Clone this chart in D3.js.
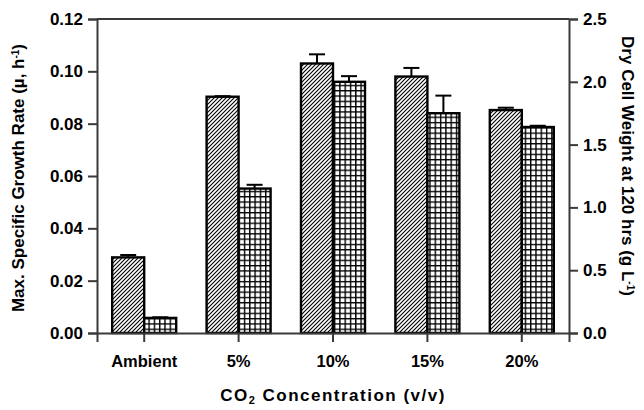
<!DOCTYPE html>
<html>
<head>
<meta charset="utf-8">
<script src="https://cdn.jsdelivr.net/npm/d3@7"></script>
<style>
  body { margin: 0; background: #fff; }
  text { font-family: "Liberation Sans", Arial, sans-serif; font-weight: bold; }
</style>
</head>
<body>
<svg id="chart"></svg>
<script>
var categories = ["Ambient", "5%", "10%", "15%", "20%"];
var growthRate = [0.0289, 0.0903, 0.1030, 0.0980, 0.0852];
var growthErr  = [0.0009, 0.0002, 0.0035, 0.0033, 0.0009];
var dryWeight  = [0.12, 1.15, 2.00, 1.75, 1.64];
var dryErr     = [0.005, 0.03, 0.045, 0.14, 0.01];
var leftTicks  = [0, 0.02, 0.04, 0.06, 0.08, 0.10, 0.12];
var rightTicks = [0, 0.5, 1.0, 1.5, 2.0, 2.5];

var width = 644, height = 410;
var margin = {top: 19, right: 75, bottom: 77, left: 97};

var svg = d3.select("#chart").attr("width", width).attr("height", height);

// patterns for the two series
var defs = svg.append("defs");
var hatch = defs.append("pattern").attr("id", "hatch")
  .attr("patternUnits", "userSpaceOnUse").attr("width", 4).attr("height", 4);
hatch.append("rect").attr("width", 4).attr("height", 4).attr("fill", "#fff");
hatch.append("path").attr("d", "M-1,1 l2,-2 M0,4 l4,-4 M3,5 l2,-2")
  .attr("stroke", "#000").attr("stroke-width", 1.1);

var grid = defs.append("pattern").attr("id", "grid")
  .attr("patternUnits", "userSpaceOnUse").attr("width", 5.3).attr("height", 5.3);
grid.append("rect").attr("width", 5.3).attr("height", 5.3).attr("fill", "#fff");
grid.append("path").attr("d", "M0,0.7 H5.3 M0.7,0 V5.3")
  .attr("stroke", "#000").attr("stroke-width", 1.4);

var x0 = d3.scaleBand().domain(categories).range([margin.left, width - margin.right]);
var x1 = d3.scaleBand().domain(["mu", "dcw"]).range([0, 64]);
var yL = d3.scaleLinear().domain([0, 0.12]).range([height - margin.bottom, margin.top]);
var yR = d3.scaleLinear().domain([0, 2.5]).range([height - margin.bottom, margin.top]);

var g = svg.append("g");

categories.forEach(function(c, i) {
  var cx = x0(c) + x0.bandwidth() / 2 - 32;
  var series = [
    {key: "mu", v: growthRate[i], e: growthErr[i], y: yL, fill: "url(#hatch)"},
    {key: "dcw", v: dryWeight[i], e: dryErr[i], y: yR, fill: "url(#grid)"}
  ];
  series.forEach(function(s) {
    var bx = cx + x1(s.key), bw = x1.bandwidth();
    var top = s.y(s.v), tip = s.y(s.v + s.e);
    g.append("line").attr("x1", bx + bw / 2).attr("x2", bx + bw / 2)
      .attr("y1", top).attr("y2", tip).attr("stroke", "#000").attr("stroke-width", 2);
    g.append("line").attr("x1", bx + bw / 2 - 8).attr("x2", bx + bw / 2 + 8)
      .attr("y1", tip).attr("y2", tip).attr("stroke", "#000").attr("stroke-width", 2);
    g.append("rect").attr("x", bx).attr("y", top)
      .attr("width", bw).attr("height", s.y(0) - top)
      .attr("fill", s.fill).attr("stroke", "#000").attr("stroke-width", 2.4);
  });
});

// axes
var axisColor = "#3a3a3a";
var left = svg.append("g").attr("transform", "translate(" + margin.left + ",0)")
  .call(d3.axisLeft(yL).tickValues(leftTicks).tickFormat(d3.format(".2f")).tickSize(9).tickPadding(5));
var right = svg.append("g").attr("transform", "translate(" + (width - margin.right) + ",0)")
  .call(d3.axisRight(yR).tickValues(rightTicks).tickFormat(d3.format(".1f")).tickSize(9).tickPadding(5));
var bottom = svg.append("g").attr("transform", "translate(0," + (height - margin.bottom) + ")")
  .call(d3.axisBottom(x0).tickSize(9).tickPadding(13));

[left, right, bottom].forEach(function(a) {
  a.select(".domain").attr("stroke", axisColor).attr("stroke-width", 2);
  a.selectAll(".tick line").attr("stroke", axisColor).attr("stroke-width", 2);
  a.selectAll("text").attr("fill", "#000").style("font-size", "17px")
    .style("font-family", "'Liberation Sans', Arial, sans-serif").style("font-weight", "bold");
});
bottom.selectAll("text").style("font-size", "16.5px");

// top frame line
svg.append("line").attr("x1", margin.left).attr("x2", width - margin.right)
  .attr("y1", margin.top).attr("y2", margin.top)
  .attr("stroke", axisColor).attr("stroke-width", 2);

// axis titles
svg.append("text").attr("transform", "translate(24,178) rotate(-90)")
  .attr("text-anchor", "middle").style("font-size", "17px")
  .html("Max. Specific Growth Rate (µ, h<tspan baseline-shift='super' font-size='10px'>-1</tspan>)");

svg.append("text").attr("transform", "translate(622,166) rotate(90)")
  .attr("text-anchor", "middle").style("font-size", "17px")
  .html("Dry Cell Weight at 120 hrs (g L<tspan baseline-shift='super' font-size='10px'>-1</tspan>)");

svg.append("text").attr("x", (margin.left + width - margin.right) / 2).attr("y", 401)
  .attr("text-anchor", "middle").style("font-size", "17px").style("letter-spacing", "1.5px")
  .html("CO<tspan baseline-shift='-3' font-size='11px'>2</tspan> Concentration (v/v)");
</script>
</body>
</html>
